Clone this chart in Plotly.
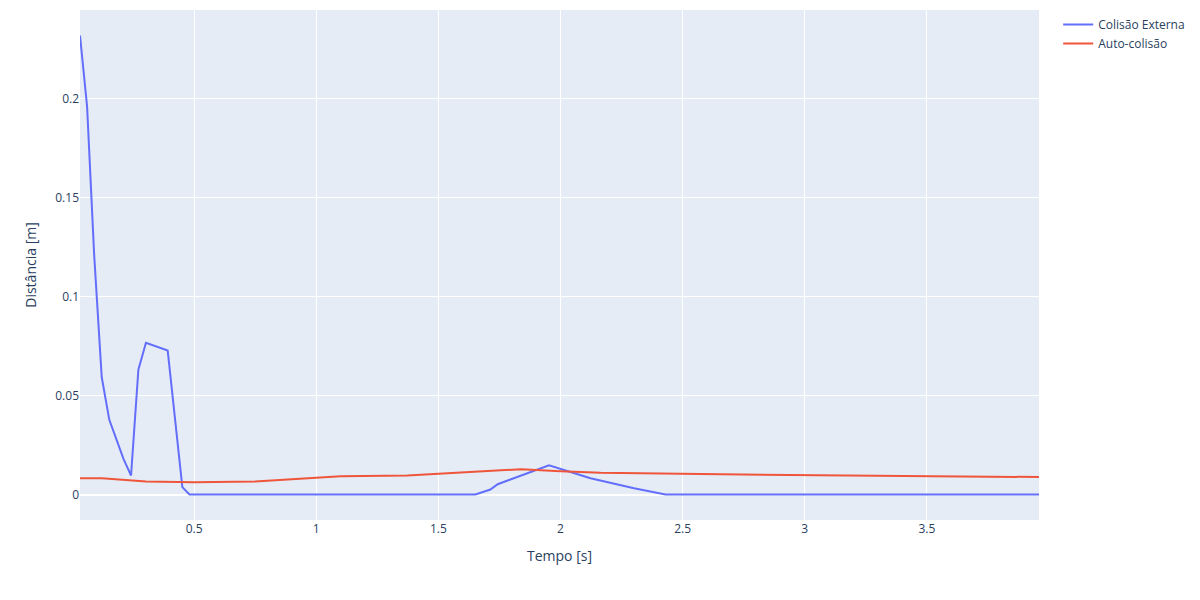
import plotly.graph_objects as go

ext_t = [0.033, 0.062, 0.091, 0.122, 0.153, 0.211, 0.242, 0.272, 0.303, 0.392,
         0.452, 0.481, 1.652, 1.713, 1.743, 1.953, 2.123, 2.301, 2.43, 3.959]
ext_d = [0.2318, 0.196, 0.121, 0.0592, 0.0377, 0.018, 0.0096, 0.063, 0.0766, 0.0727,
         0.0037, 0.0, 0.0, 0.0025, 0.0052, 0.0148, 0.0082, 0.0032, 0.0, 0.0]

auto_t = [0.033, 0.123, 0.303, 0.5, 0.75, 1.0, 1.1, 1.373, 1.652, 1.84,
          2.0, 2.164, 2.574, 3.959]
auto_d = [0.0082, 0.0082, 0.0066, 0.0062, 0.0066, 0.0086, 0.0092, 0.0096, 0.0116, 0.0128,
          0.0118, 0.0110, 0.0103, 0.0088]

fig = go.Figure()
fig.add_trace(go.Scatter(x=ext_t, y=ext_d, mode="lines", name="Colisão Externa"))
fig.add_trace(go.Scatter(x=auto_t, y=auto_d, mode="lines", name="Auto-colisão"))
fig.update_layout(
    width=1200, height=600,
    margin=dict(l=80, t=10, b=80),
    xaxis_title="Tempo [s]",
    yaxis_title="Distância [m]",
    font=dict(family="Open Sans"),
)
fig.write_html("out.html", config={"displayModeBar": False},
               post_script="document.body.style.margin='0';")
